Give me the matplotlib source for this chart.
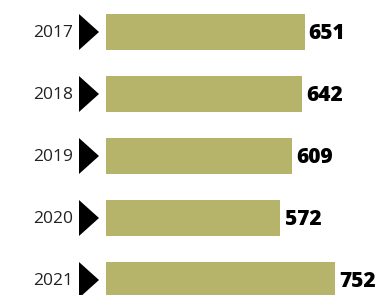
import matplotlib
matplotlib.use("Agg")
import matplotlib.pyplot as plt
import matplotlib.transforms as mtransforms

years = ["2017", "2018", "2019", "2020", "2021"]
values = [651, 642, 609, 572, 752]

W, H = 382, 295
fig = plt.figure(figsize=(W / 100, H / 100), dpi=100)
ax = fig.add_axes([0, 0, 1, 1])

px_per_unit = 0.305
left_px = 106
ax.set_xlim(-left_px / px_per_unit, (W - left_px) / px_per_unit)
spacing = 62.0
top_px = 32.0
ax.set_ylim(len(years) - 1 + (H - top_px - (len(years) - 1) * spacing) / spacing, -top_px / spacing)

bar_color = "#B6B36B"
pos = list(range(len(years)))
ax.barh(pos, values, height=0.58, color=bar_color, left=0)

trans = mtransforms.blended_transform_factory(fig.transFigure, ax.transData)
for i, (y, v) in enumerate(zip(years, values)):
    ax.fill([79 / W, 99 / W, 79 / W], [i - 0.29, i, i + 0.29], color="black",
            transform=trans, lw=0)
    ax.text(73 / W, i + 0.02, y, transform=trans, ha="right", va="center",
            fontsize=12.5, family="Open Sans", color="#222222")
    ax.annotate(str(v), xy=(v, i + 0.03), xytext=(3, 0), textcoords="offset points",
                ha="left", va="center", fontsize=15, family="Open Sans",
                fontweight="heavy", color="black")

ax.axis("off")
fig.savefig("out.png", dpi=100)
